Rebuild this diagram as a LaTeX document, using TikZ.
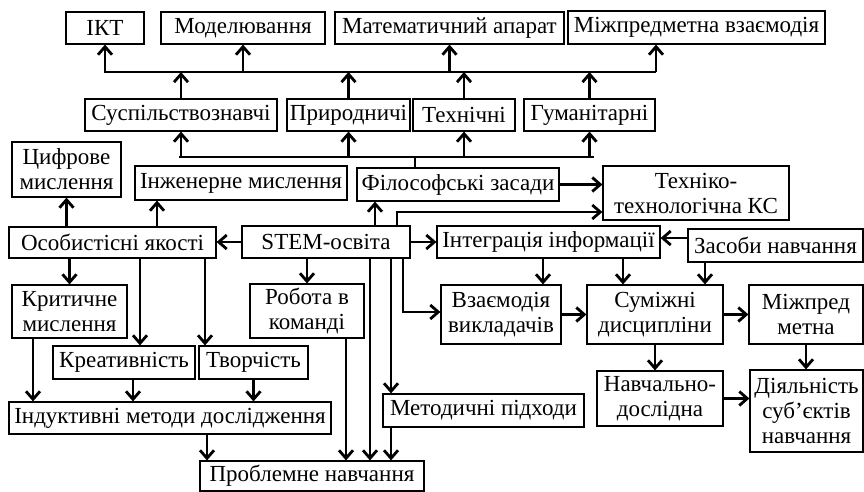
\documentclass[tikz,border=0pt]{standalone}
\usepackage{fontspec}
\setmainfont{Liberation Serif}
\usetikzlibrary{arrows.meta}

\begin{document}
\begin{tikzpicture}[x=1pt,y=-1pt,
  blk/.style={draw,line width=1.2pt,inner sep=0pt,align=center,
    font=\fontsize{23}{25}\selectfont},
  arr/.style={line width=2.8pt,-{Straight Barb[length=8pt,width=14pt]}},
  bus/.style={line width=2.8pt}]
\useasboundingbox (0,0) rectangle (864,491);

% top row
\node[blk,minimum width=78pt,minimum height=32pt] (ikt) at (105,28) {ІКТ};
\node[blk,minimum width=164pt,minimum height=32pt] (model) at (243,28) {Моделювання};
\node[blk,minimum width=229pt,minimum height=32pt] (matem) at (449.5,28) {Математичний апарат};
\node[blk,minimum width=257pt,minimum height=33pt] (mizhv) at (696.5,27.5) {Міжпредметна взаємодія};

% disciplines
\node[blk,minimum width=192pt,minimum height=32pt] (susp) at (181,115) {Суспільствознавчі};
\node[blk,minimum width=123pt,minimum height=32pt] (pryr) at (348.5,115) {Природничі};
\node[blk,minimum width=102pt,minimum height=32pt] (tekh) at (464,115) {Технічні};
\node[blk,minimum width=131pt,minimum height=32pt] (guman) at (589.5,115) {Гуманітарні};

\node[blk,minimum width=109pt,minimum height=55pt] (cyfr) at (66.5,169.5) {Цифрове\\мислення};
\node[blk,minimum width=212pt,minimum height=34pt] (inzh) at (241,183) {Інженерне мислення};
\node[blk,minimum width=202pt,minimum height=33pt] (filos) at (458,184.5) {Філософські засади};
\node[blk,minimum width=186pt,minimum height=54pt] (tekhno) at (696,193) {Техніко-\\технологічна КС};

\node[blk,minimum width=207pt,minimum height=31pt] (osob) at (112.5,242.5) {Особистісні якості};
\node[blk,minimum width=168pt,minimum height=32pt] (stem) at (326,242) {STEM-освіта};
\node[blk,minimum width=223pt,minimum height=32pt] (integr) at (548.5,242) {Інтеграція інформації};
\node[blk,minimum width=175pt,minimum height=33pt] (zasob) at (775.5,245.5) {Засоби навчання};

\node[blk,minimum width=115pt,minimum height=53pt] (kryt) at (69.5,311.5) {Критичне\\мислення};
\node[blk,minimum width=114pt,minimum height=54pt] (robota) at (307,311) {Робота в\\команді};
\node[blk,minimum width=120pt,minimum height=59pt] (vzaem) at (501,314.5) {Взаємодія\\викладачів};
\node[blk,minimum width=136pt,minimum height=59pt] (sumizh) at (655,314.5) {Суміжні\\дисципліни};
\node[blk,minimum width=114pt,minimum height=59pt] (mizhpr) at (806,314.5) {Міжпред\\метна};

\node[blk,minimum width=142pt,minimum height=33pt] (kreat) at (124,362.5) {Креативність};
\node[blk,minimum width=109pt,minimum height=33pt] (tvor) at (253.5,362.5) {Творчість};
\node[blk,minimum width=201pt,minimum height=33pt] (metod) at (483.5,410.5) {Методичні підходи};
\node[blk,minimum width=126pt,minimum height=55pt] (navch) at (660,398.5) {Навчально-\\дослідна};
\node[blk,minimum width=113pt,minimum height=82pt] (diyal) at (806.5,411) {Діяльність\\суб’єктів\\навчання};

\node[blk,minimum width=322pt,minimum height=32pt] (indukt) at (170,418) {Індуктивні методи дослідження};
\node[blk,minimum width=224pt,minimum height=30pt] (problem) at (312,476) {Проблемне навчання};

% buses
\coordinate (bus1) at (104,72);
\coordinate (bus1r) at (656,72);
\coordinate (bus2) at (415,157);
\draw[bus] (bus1) -- (bus1r);
\draw[bus] ([xshift=-2pt]susp.south |- bus2) -- ([xshift=4pt]guman.south |- bus2);
\draw[bus] (bus2) -- (bus2 |- filos.north);

\foreach \n in {ikt,model,matem}
  {\draw[arr] (\n.south |- bus1) -- (\n.south);}
\draw[arr] (bus1r) -- (bus1r |- mizhv.south);
\foreach \n in {susp,pryr,tekh,guman}
  {\draw[arr] (\n.north) -- (\n.north |- bus1);
   \draw[arr] (\n.south |- bus2) -- (\n.south);}

% from STEM
\draw[arr] (filos.east) -- (filos.east -| tekhno.west);
\draw[arr] ([xshift=71pt]stem.north) |- ([yshift=-19pt]tekhno.west);
\draw[arr] ([xshift=49pt]stem.north) -- ([xshift=49pt]stem.north |- filos.south);
\draw[arr] (stem.west) -- (stem.west -| osob.east);
\draw[arr] (stem.east) -- (stem.east -| integr.west);
\draw[arr] ([yshift=7.5pt]zasob.west) -- ([yshift=7.5pt]zasob.west -| integr.east);
\draw[arr] (stem.south -| robota.north) -- (robota.north);
\coordinate (sa) at ([xshift=44pt]stem.south);
\coordinate (sb) at ([xshift=65pt]stem.south);
\draw[arr] (sa) -- (sa |- problem.north);
\draw[arr] (sb) -- (sb |- metod.north);
\draw[arr] (sb |- metod.south) -- (sb |- problem.north);
\draw[arr] ([xshift=77pt]stem.south) |- ([yshift=2.5pt]vzaem.west);

% personal
\draw[arr] (osob.north -| cyfr.south) -- (cyfr.south);
\draw[arr] ([xshift=44.5pt]osob.north) -- ([xshift=44.5pt]osob.north |- inzh.south);
\draw[arr] (osob.south -| kryt.north) -- (kryt.north);
\draw[arr] ([xshift=27.5pt]osob.south) -- ([xshift=27.5pt]osob.south |- kreat.north);
\draw[arr] ([xshift=92.5pt]osob.south) -- ([xshift=92.5pt]osob.south |- tvor.north);
\draw[arr] ([xshift=-36.5pt]kryt.south) -- ([xshift=-36.5pt]kryt.south |- indukt.north);
\draw[arr] ([xshift=9pt]kreat.south) -- ([xshift=9pt]kreat.south |- indukt.north);
\draw[arr] (tvor.south) -- (tvor.south |- indukt.north);
\draw[arr] ([xshift=37pt]indukt.south) -- ([xshift=37pt]indukt.south |- problem.north);
\draw[arr] ([xshift=39pt]robota.south) -- ([xshift=39pt]robota.south |- problem.north);

% integration
\draw[arr] ([xshift=-5.5pt]integr.south) -- ([xshift=-5.5pt]integr.south |- vzaem.north);
\draw[arr] ([xshift=74.5pt]integr.south) -- ([xshift=74.5pt]integr.south |- sumizh.north);
\draw[arr] ([xshift=-70.5pt]zasob.south) -- ([xshift=-70.5pt]zasob.south |- sumizh.north);
\draw[arr] (vzaem.east) -- (sumizh.west);
\draw[arr] (sumizh.east) -- (mizhpr.west);
\draw[arr] (sumizh.south) -- (sumizh.south |- navch.north);
\draw[arr] (mizhpr.south) -- (mizhpr.south |- diyal.north);
\draw[arr] (navch.east) -- (navch.east -| diyal.west);
\end{tikzpicture}
\end{document}
